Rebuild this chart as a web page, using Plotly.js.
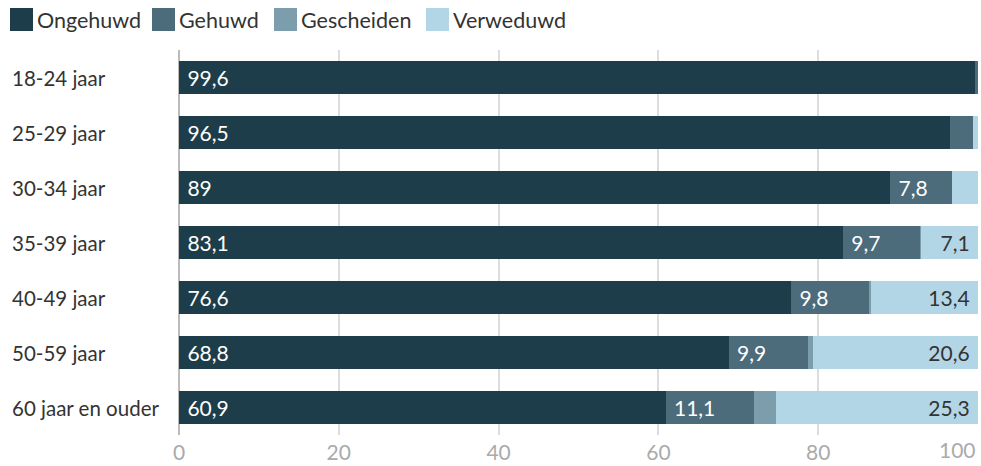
<!DOCTYPE html>
<html>
<head>
<meta charset="utf-8">
<script src="https://cdn.plot.ly/plotly-3.0.1.min.js"></script>
<style>
html,body{margin:0;padding:0;background:#fff;}
#chart{width:981px;height:466px;}
</style>
</head>
<body>
<div id="chart"></div>
<script>
var categories = ["18-24 jaar","25-29 jaar","30-34 jaar","35-39 jaar","40-49 jaar","50-59 jaar","60 jaar en ouder"];
var ongehuwd   = [99.6, 96.5, 89.0, 83.1, 76.6, 68.8, 60.9];
var gehuwd     = [0.4, 2.9, 7.8, 9.7, 9.8, 9.9, 11.1];
var gescheiden = [0.0, 0.0, 0.0, 0.1, 0.2, 0.7, 2.7];
var verweduwd  = [0.0, 0.6, 3.2, 7.1, 13.4, 20.6, 25.3];
var seriesNames = ["Ongehuwd","Gehuwd","Gescheiden","Verweduwd"];
var xTicks = [0, 20, 40, 60, 80, 100];

var colors = ["#1e3d4a","#4c6b7b","#7c9dab","#b3d6e6"];
var textColors = ["#ffffff","#ffffff","#ffffff","#333333"];
var anchors = ["start","start","start","end"];
var FONT = "Lato, 'Open Sans', sans-serif";

// pixel helpers for the plot area (l=179, r=3, t=50, b=31)
var W = 981, H = 466, L = 179, R = 3, T = 50, B = 31;
function px2x(p){ return (p - L) / (W - L - R); }
function py2y(p){ return (H - B - p) / (H - T - B); }

function fmt(v, i){
  if (v < 5) return '';
  var s = String(v).replace('.', ',');
  return anchors[i] === 'end' ? s + '\u00a0' : '\u00a0' + s;
}

var allSeries = [ongehuwd, gehuwd, gescheiden, verweduwd];
var traces = allSeries.map(function(vals, i){
  return {
    type: 'bar',
    orientation: 'h',
    name: seriesNames[i],
    y: categories,
    x: vals,
    text: vals.map(function(v){ return fmt(v, i); }),
    textposition: 'inside',
    insidetextanchor: anchors[i],
    textfont: {family: FONT, size: 21, color: textColors[i]},
    constraintext: 'none',
    marker: {color: colors[i], line: {width: 0}},
    hoverinfo: 'x+name',
    showlegend: false
  };
});

var annotations = categories.map(function(c){
  return {
    xref: 'paper', yref: 'y', x: px2x(10), y: c,
    xanchor: 'left', yanchor: 'middle', text: c, showarrow: false,
    font: {family: FONT, size: 20.5, color: '#333333'}
  };
});
annotations.push({
  xref: 'x', yref: 'paper', x: xTicks[xTicks.length-1], y: py2y(450),
  xanchor: 'right', yanchor: 'middle', text: String(xTicks[xTicks.length-1]), showarrow: false,
  font: {family: FONT, size: 21, color: '#aaaaaa'}
});

// custom legend (large square swatches)
var legendSwatchX = [10, 152, 274, 426];
var shapes = [];
seriesNames.forEach(function(n, i){
  shapes.push({
    type: 'rect', xref: 'paper', yref: 'paper',
    x0: px2x(legendSwatchX[i]), x1: px2x(legendSwatchX[i] + 23),
    y0: py2y(31), y1: py2y(8),
    fillcolor: colors[i], line: {width: 0}
  });
  annotations.push({
    xref: 'paper', yref: 'paper', x: px2x(legendSwatchX[i] + 25), y: py2y(20),
    xanchor: 'left', yanchor: 'middle', text: n, showarrow: false,
    font: {family: FONT, size: 21.5, color: '#333333'}
  });
});

var layout = {
  width: W, height: H,
  margin: {l: L, r: R, t: T, b: B, pad: 0},
  barmode: 'stack',
  bargap: 0.4,
  paper_bgcolor: '#ffffff',
  plot_bgcolor: '#ffffff',
  font: {family: FONT, color: '#333333'},
  showlegend: false,
  xaxis: {
    range: [0, 100],
    tickvals: xTicks,
    ticktext: xTicks.map(function(v, i){ return i === xTicks.length-1 ? '' : String(v); }),
    showgrid: true, gridcolor: '#dddddd', gridwidth: 2,
    zeroline: true, zerolinecolor: '#bbbbbb', zerolinewidth: 2,
    showline: false, ticks: '',
    ticklabelstandoff: 3,
    tickfont: {family: FONT, size: 21, color: '#aaaaaa'},
    automargin: false,
    fixedrange: true
  },
  yaxis: {
    type: 'category',
    autorange: 'reversed',
    showticklabels: false, showgrid: false, zeroline: false, ticks: '',
    automargin: false,
    fixedrange: true
  },
  shapes: shapes,
  annotations: annotations
};

Plotly.newPlot('chart', traces, layout, {displayModeBar: false, staticPlot: true});
</script>
</body>
</html>
